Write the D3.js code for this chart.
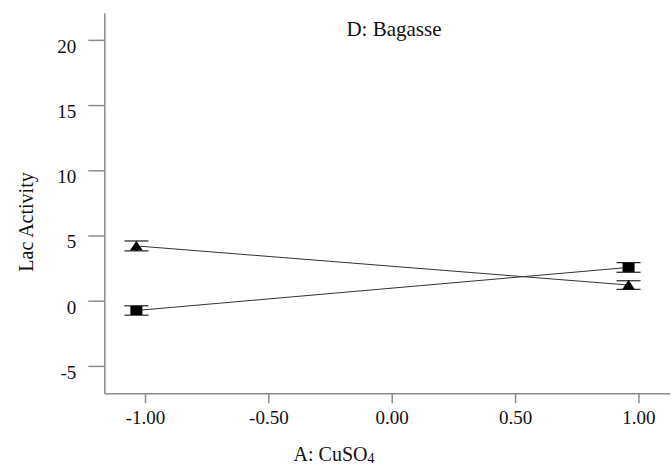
<!DOCTYPE html>
<html>
<head>
<meta charset="utf-8">
<script src="https://cdn.jsdelivr.net/npm/d3@7"></script>
<style>
  body { margin: 0; background: #fff; }
  svg { display: block; }
  text { font-family: "Liberation Serif", "Times New Roman", serif; fill: #111; }
  .axis path, .axis line { stroke: #8c8c8c; stroke-width: 1.5; }
</style>
</head>
<body>
<div id="chart"></div>
<script>
// data
var xLevels = [-1.035, 0.96];          // A: CuSO4 (markers sit slightly left of the ticks)
var triMean = [4.2, 1.2];
var triErr  = [0.38, 0.33];
var sqMean  = [-0.75, 2.55];
var sqErr   = [0.36, 0.37];
var xTicks = [-1, -0.5, 0, 0.5, 1];
var yTicks = [-5, 0, 5, 10, 15, 20];

var W = 672, H = 465;
var x = d3.scaleLinear().domain([-1.165, 1.128]).range([104.3, 670]);
var y = d3.scaleLinear().domain([-7.1, 22.06]).range([393.3, 13]);

var svg = d3.select("#chart").append("svg")
  .attr("width", W).attr("height", H);

//////////////////////////////////
// axes
var xAxis = d3.axisBottom(x).tickValues(xTicks).tickSize(10).tickSizeOuter(0)
  .tickFormat(d3.format(".2f"));
var gx = svg.append("g").attr("class", "axis")
  .attr("transform", "translate(0," + y.range()[0] + ")")
  .call(xAxis);
gx.selectAll("text").attr("font-size", 19).attr("dy", "0.95em")
  .text(function(d) { return d3.format(".2f")(d).replace("−", "-"); });

var yAxis = d3.axisLeft(y).tickValues(yTicks).tickSize(16).tickSizeOuter(0);
var gy = svg.append("g").attr("class", "axis")
  .attr("transform", "translate(" + x.range()[0] + ",0)")
  .call(yAxis);
gy.selectAll("text").attr("font-size", 19).attr("x", -28).attr("dy", "0.65em")
  .text(function(d) { return String(d).replace("−", "-"); });
gy.selectAll(".tick text").attr("text-anchor", "end");

//////////////////////////////////
// titles
svg.append("text").attr("x", 394).attr("y", 36)
  .attr("text-anchor", "middle").attr("font-size", 21).text("D: Bagasse");

var xt = svg.append("text").attr("x", 334).attr("y", 461)
  .attr("text-anchor", "middle").attr("font-size", 20);
xt.append("tspan").text("A: CuSO");
xt.append("tspan").attr("font-size", 14).attr("dy", 2).text("4");

svg.append("text")
  .attr("transform", "translate(33,222) rotate(-90)")
  .attr("text-anchor", "middle").attr("font-size", 20).text("Lac Activity");

//////////////////////////////////
// series
function drawSeries(means, errs, shape) {
  var pts = xLevels.map(function(v, i) { return { x: v, m: means[i], e: errs[i] }; });
  svg.append("path")
    .datum(pts)
    .attr("fill", "none").attr("stroke", "#333").attr("stroke-width", 1)
    .attr("d", d3.line().x(function(d) { return x(d.x); }).y(function(d) { return y(d.m); }));

  var g = svg.selectAll("g." + shape).data(pts).enter().append("g").attr("class", shape);
  g.append("line") // upper cap
    .attr("x1", function(d) { return x(d.x) - 12; }).attr("x2", function(d) { return x(d.x) + 12; })
    .attr("y1", function(d) { return y(d.m + d.e); }).attr("y2", function(d) { return y(d.m + d.e); })
    .attr("stroke", "#222").attr("stroke-width", 1.2);
  g.append("line") // lower cap
    .attr("x1", function(d) { return x(d.x) - 12; }).attr("x2", function(d) { return x(d.x) + 12; })
    .attr("y1", function(d) { return y(d.m - d.e); }).attr("y2", function(d) { return y(d.m - d.e); })
    .attr("stroke", "#222").attr("stroke-width", 1.2);
  g.append("line") // stem
    .attr("x1", function(d) { return x(d.x); }).attr("x2", function(d) { return x(d.x); })
    .attr("y1", function(d) { return y(d.m + d.e); }).attr("y2", function(d) { return y(d.m - d.e); })
    .attr("stroke", "#222").attr("stroke-width", 1.2);

  if (shape == "sq") {
    g.append("rect")
      .attr("x", function(d) { return x(d.x) - 6; })
      .attr("y", function(d) { return y(d.m) - 4.5; })
      .attr("width", 12).attr("height", 9).attr("fill", "#000");
  } else {
    g.append("path")
      .attr("d", function(d) {
        var cx = x(d.x), cy = y(d.m);
        return "M " + (cx - 6.5) + "," + (cy + 4.5) + " L " + (cx + 6.5) + "," + (cy + 4.5) +
               " L " + cx + "," + (cy - 5) + " Z";
      })
      .attr("fill", "#000");
  }
}

drawSeries(triMean, triErr, "tri");
drawSeries(sqMean, sqErr, "sq");
</script>
</body>
</html>
